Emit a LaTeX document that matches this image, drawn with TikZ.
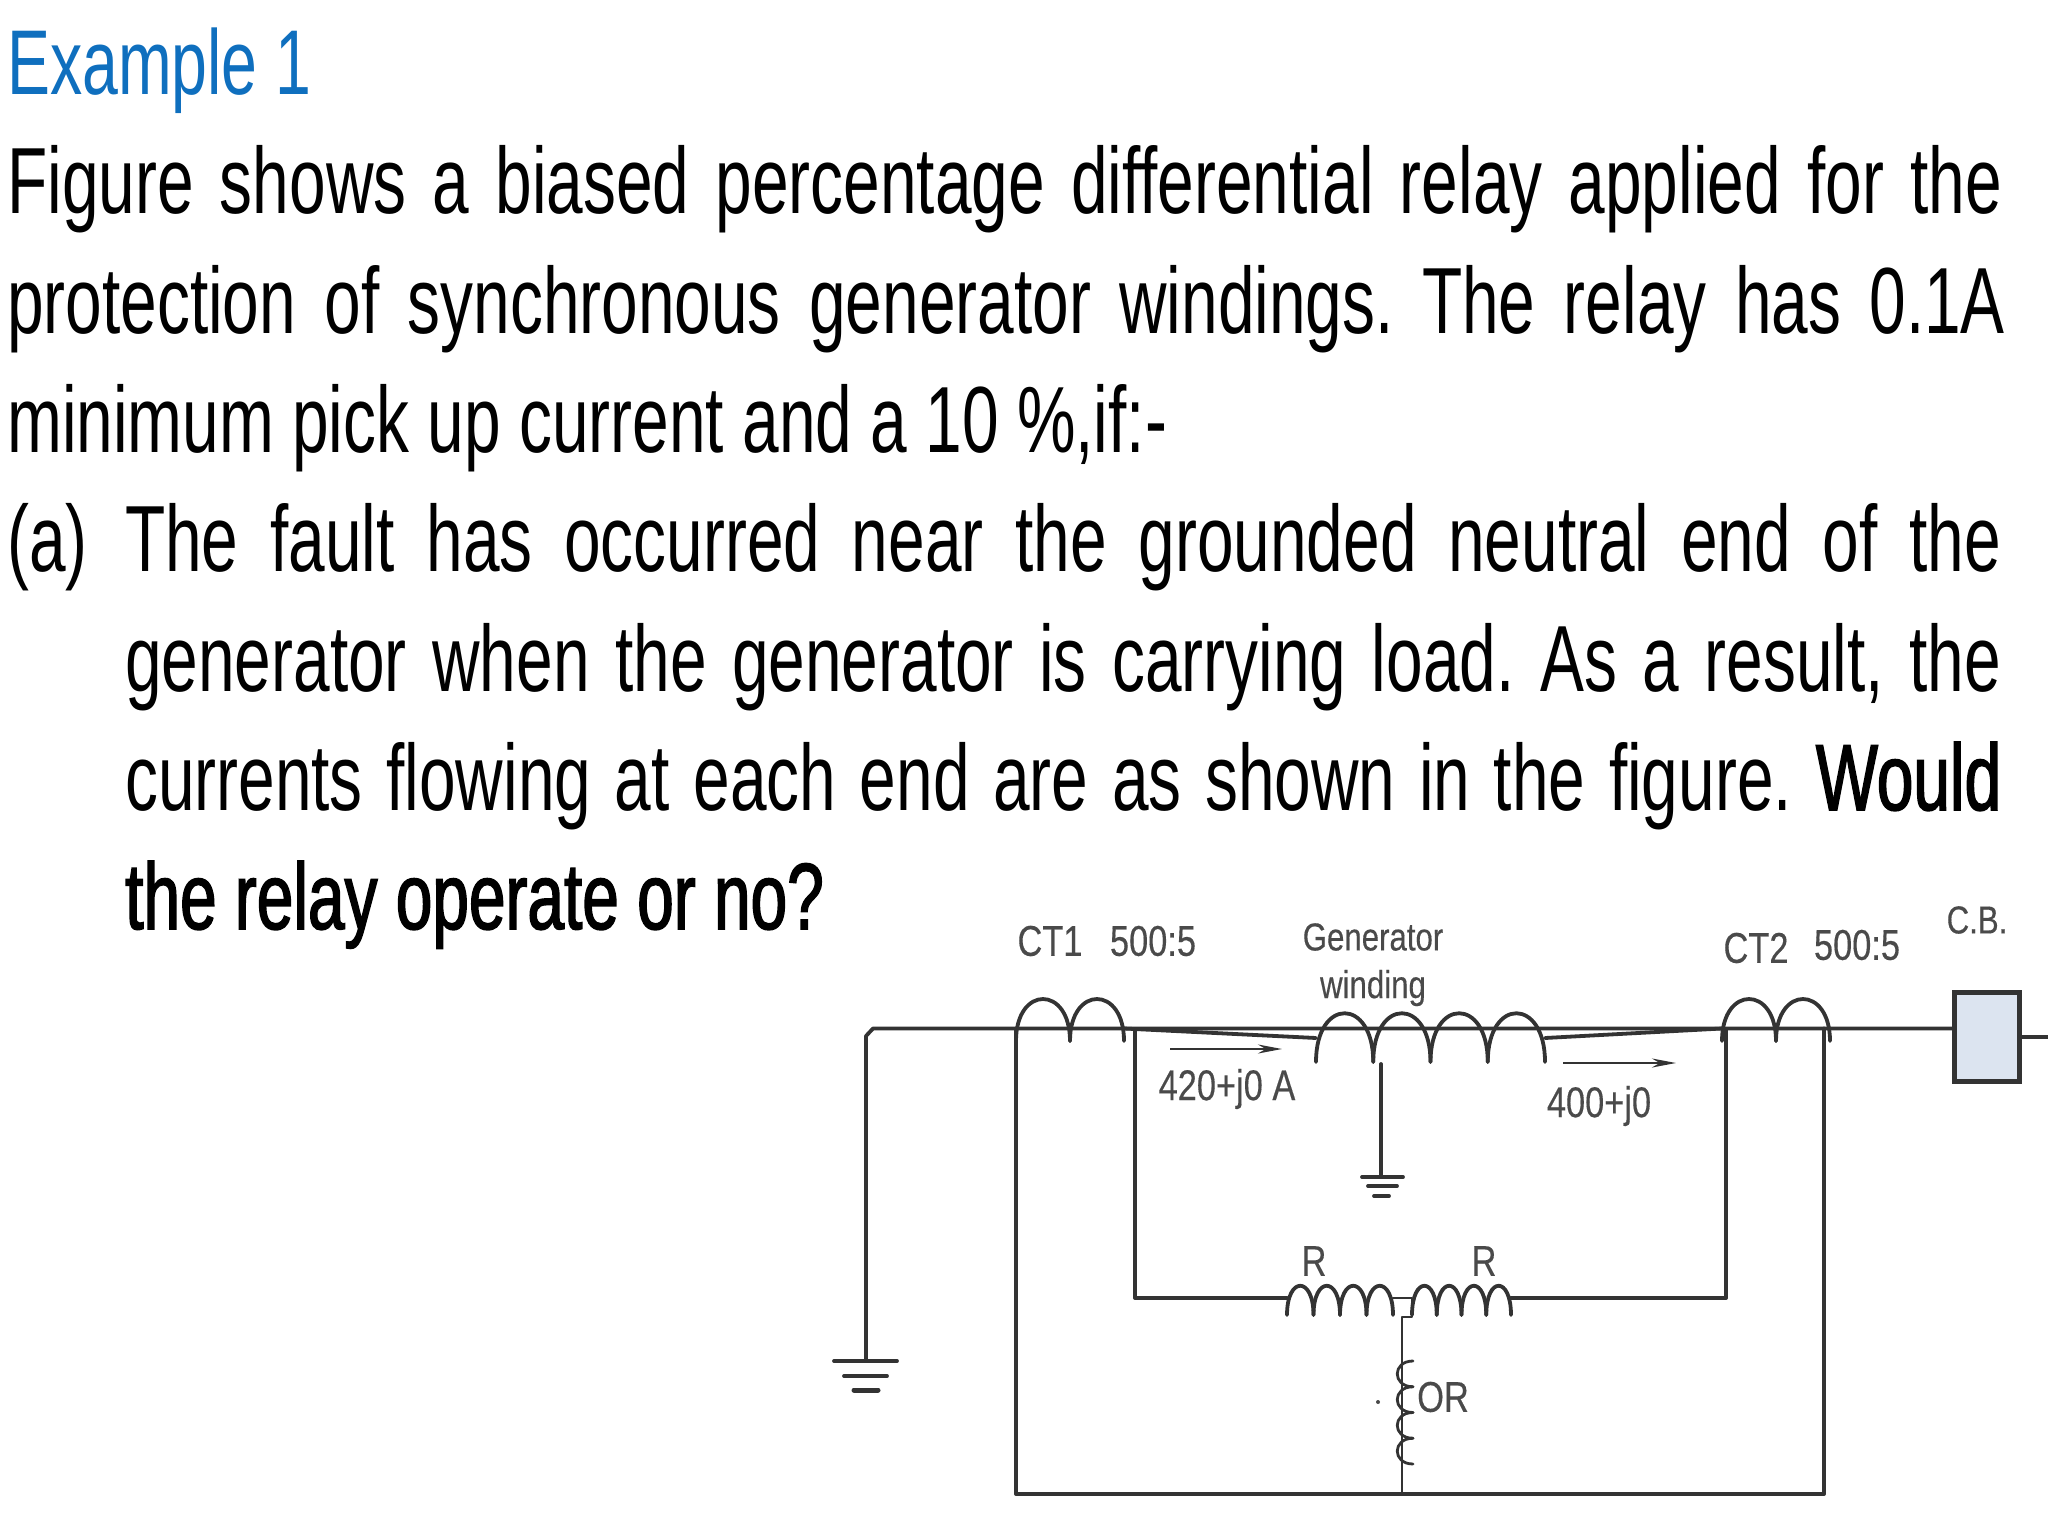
\documentclass[tikz,border=0pt]{standalone}
\usepackage{fontspec}
\usepackage{tikz}
\usetikzlibrary{arrows.meta,positioning}
\newfontfamily\slidefont[FakeStretch=0.70]{Liberation Sans}
\newfontfamily\shadowfont[FakeStretch=0.70,FakeBold=1.6]{Liberation Sans}
\newfontfamily\figfont[FakeStretch=0.80,FakeBold=0.3]{Liberation Sans}
\frenchspacing
\definecolor{slideblue}{HTML}{0F6FBE}
\definecolor{wirecol}{HTML}{333333}
\definecolor{labelcol}{HTML}{4A4A4A}
\definecolor{cbfill}{HTML}{DCE4F0}
\tikzset{
  bodyline/.style={anchor=base west,inner sep=0pt,text=black,font=\slidefont\fontsize{94}{94}\selectfont},
  figlabel/.style={inner sep=0pt,text=labelcol,font=\figfont\fontsize{43}{43}\selectfont},
  smalllabel/.style={figlabel,font=\figfont\fontsize{39}{39}\selectfont},
  wire/.style={draw=wirecol,line width=3.8pt,line cap=round,line join=round},
  thinwire/.style={wire,line width=2.8pt},
  currentarrow/.style={draw=wirecol,line width=2.6pt,-{Stealth[length=24pt,width=9pt]}},
}
% one row of coil bumps: x start, bump width, count, y of leg ends, y of control points
\newcommand{\coilrow}[5]{
  \foreach \i in {1,...,#3}{
    \draw [wire] ({#1+(\i-1)*#2},#4) .. controls ({#1+(\i-1)*#2},#5) and ({#1+\i*#2},#5) .. ({#1+\i*#2},#4);
  }
}
\begin{document}
\begin{tikzpicture}[x=1pt,y=-1pt]
    \useasboundingbox (0,0) rectangle (2048,1536);

    \node[bodyline,text=slideblue,font=\slidefont\fontsize{92}{92}\selectfont] (title) at (7,95) {Example 1};
    \node[bodyline] (line1) at (7,213) {\makebox[1995pt][s]{Figure shows a biased percentage differential relay applied for the}};
    \node[bodyline] (line2) at (7,333) {\makebox[1998pt][s]{protection of synchronous generator windings. The relay has 0.1A}};
    \node[bodyline] (line3) at (7,452) {\makebox[1160pt][s]{minimum pick up current and a 10 \%,if:-}};
    \node[bodyline] (tag)   at (7,571) {(a)};
    \node[bodyline] (line4) at (125,571) {\makebox[1876pt][s]{The fault has occurred near the grounded neutral end of the}};
    \node[bodyline] (line5) at (125,691) {\makebox[1876pt][s]{generator when the generator is carrying load. As a result, the}};
    \node[bodyline] (line6) at (125,810) {\makebox[1876pt][s]{currents flowing at each end are as shown in the figure. {\shadowfont Would}}};
    \node[bodyline,font=\shadowfont\fontsize{94}{94}\selectfont] (line7) at (125,929) {the relay operate or no?};

    \node[figlabel] (ct1)     at (1050,941)  {CT1};
    \node[figlabel] (ratio1)  at (1153,941)  {500:5};
    \node[smalllabel] (gen)   at (1373,937)  {Generator};
    \node[smalllabel] (wind)  at (1373,988)  {winding};
    \node[figlabel] (ct2)     at (1756,948)  {CT2};
    \node[figlabel] (ratio2)  at (1857,945)  {500:5};
    \node[smalllabel] (cblabel) at (1977,920) {C.B.};
    \node[figlabel] (i1)      at (1227,1089) {420+j0 A};
    \node[figlabel] (i2)      at (1599,1106) {400+j0};
    \node[figlabel] (r1)      at (1314,1261) {R};
    \node[figlabel] (r2)      at (1484,1261) {R};
    \node[figlabel] (orlabel) at (1443,1397) {OR};

    \node[draw=wirecol,fill=cbfill,line width=5pt,minimum width=65pt,minimum height=89pt,inner sep=0pt] (cb) at (1987,1037) {};
    \node[circle,fill=labelcol,inner sep=0pt,minimum size=4pt] (speck) at (1378,1402) {};

    \coordinate (gndtop)  at (866,1036);
    \coordinate (gndbend) at (873,1028.5);
    \coordinate (gndl)    at (866,1361);
    \coordinate (ct1a)    at (1016,1028.5);
    \coordinate (ct1b)    at (1124,1028.5);
    \coordinate (wa)      at (1316,1038);
    \coordinate (wb)      at (1545,1038);
    \coordinate (ct2a)    at (1722,1028.5);
    \coordinate (ct2b)    at (1824,1028.5);
    \coordinate (cbend)   at (2048,1037);
    \coordinate (tap)     at (1381,1064);
    \coordinate (gndg)    at (1381,1177);
    \coordinate (s1)      at (1135,1030);
    \coordinate (s1b)     at (1135,1298);
    \coordinate (ra)      at (1287,1298);
    \coordinate (rb)      at (1511,1298);
    \coordinate (s2)      at (1726,1030);
    \coordinate (s2b)     at (1726,1298);
    \coordinate (botl)    at (1016,1494);
    \coordinate (botr)    at (1824,1494);
    \coordinate (bota)    at (1402,1494);
    \coordinate (orb)     at (1402,1464);
    \coordinate (i1a)     at (1170,1049);
    \coordinate (i1b)     at (1282,1049);
    \coordinate (i2a)     at (1563,1063);
    \coordinate (i2b)     at (1676,1063);

    \draw [wire] (gndl) -- (gndtop) -- (gndbend) -- (cb.west |- gndbend);
    \draw [wire] (ct1b) -- (wa);
    \draw [wire] (wb) -- (ct2a);
    \draw [wire] (cb.east |- cbend) -- (cbend);
    \draw [wire] (ct1a) -- (botl) -- (botr) -- (ct2b);
    \draw [wire] (s1) -- (s1b) -- (ra);
    \draw [wire] (s2) -- (s2b) -- (rb);
    \draw [wire] (tap) -- (gndg);

    \draw [currentarrow] (i1a) -- (i1b);
    \draw [currentarrow] (i2a) -- (i2b);

    % current transformers, winding and the two R
    \coilrow{1016}{54}{2}{1041}{985}
    \coilrow{1722}{54}{2}{1041}{985}
    \coilrow{1316}{57.25}{4}{1062}{997}
    \coilrow{1287}{26.5}{4}{1315}{1276}
    \coilrow{1412}{24.75}{4}{1315}{1276}

    % middle of the two R, down through OR
    \draw [thinwire] (1393,1298) -- (1412,1298) -- (1412,1317) -- (1402,1317) -- (orb);
    \draw [thinwire] (orb) -- (bota);
    \foreach \i in {1,...,4}{
      \draw [thinwire] (1413,{1361+(\i-1)*25.75}) .. controls (1392,{1361+(\i-1)*25.75}) and (1392,{1361+\i*25.75}) .. (1413,{1361+\i*25.75});
    }

    % the two grounds
    \draw [wire] (834,1361) -- (897,1361);
    \draw [wire] (844,1376) -- (887,1376);
    \draw [wire,line width=5pt] (854,1390) -- (878,1390);
    \draw [wire] (1362,1177) -- (1403,1177);
    \draw [wire] (1368,1186) -- (1397,1186);
    \draw [wire] (1374,1196) -- (1389,1196);
\end{tikzpicture}
\end{document}
